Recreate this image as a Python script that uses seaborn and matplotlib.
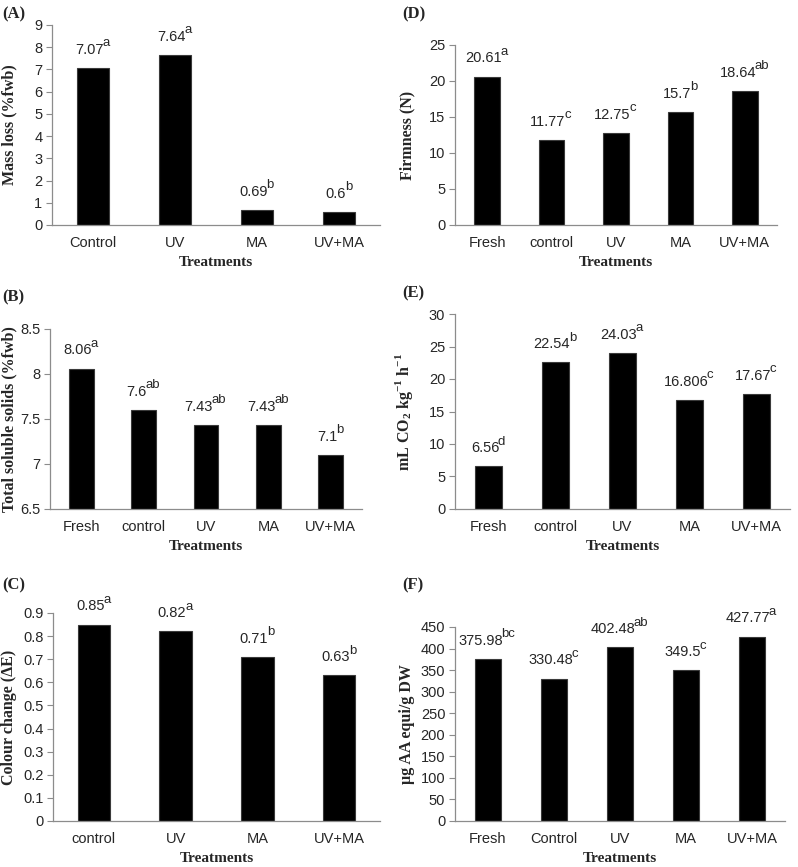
import matplotlib
matplotlib.use("Agg")
import matplotlib.pyplot as plt
import seaborn as sns
import numpy as np

# data
cats_a = ["Control", "UV", "MA", "UV+MA"]
mass_loss = [7.07, 7.64, 0.69, 0.6]
letters_a = ["a", "a", "b", "b"]

cats_b = ["Fresh", "control", "UV", "MA", "UV+MA"]
tss = [8.06, 7.6, 7.43, 7.43, 7.1]
letters_b = ["a", "ab", "ab", "ab", "b"]

cats_c = ["control", "UV", "MA", "UV+MA"]
colour_change = [0.85, 0.82, 0.71, 0.63]
letters_c = ["a", "a", "b", "b"]

cats_d = ["Fresh", "control", "UV", "MA", "UV+MA"]
firmness = [20.61, 11.77, 12.75, 15.7, 18.64]
letters_d = ["a", "c", "c", "b", "ab"]

cats_e = ["Fresh", "control", "UV", "MA", "UV+MA"]
respiration = [6.56, 22.54, 24.03, 16.806, 17.67]
letters_e = ["d", "b", "a", "c", "c"]

cats_f = ["Fresh", "Control", "UV", "MA", "UV+MA"]
antioxidant = [375.98, 330.48, 402.48, 349.5, 427.77]
letters_f = ["bc", "c", "ab", "c", "a"]

sns.set_style("white")
plt.rcParams["font.family"] = ["Liberation Sans", "DejaVu Sans"]
plt.rcParams["mathtext.fontset"] = "custom"
plt.rcParams["mathtext.rm"] = "Liberation Serif:bold"
plt.rcParams["mathtext.bf"] = "Liberation Serif:bold"

W, H = 798, 867
fig = plt.figure(figsize=(W / 100, H / 100), dpi=100)

serif = ["Liberation Serif", "DejaVu Serif"]
grey = "#8c8c8c"
fs_val = 10.5
fs_sup = 9.5


def panel(box, cats, vals, letters, ylim, step, ylabel, tag, tagxy, ypad):
    l, r, t, b = box
    ax = fig.add_axes([l / W, 1 - b / H, (r - l) / W, (b - t) / H])
    sns.barplot(x=cats, y=vals, color="black", width=0.4, saturation=1,
                edgecolor="#3a3a3a", linewidth=0.8, ax=ax)
    ax.set_ylim(*ylim)
    ax.set_xlim(-0.5, len(cats) - 0.5)
    ticks = np.arange(ylim[0], ylim[1] + step / 2, step)
    ax.set_yticks(ticks)
    ax.set_yticklabels([f"{round(v, 2):g}" for v in ticks])
    ax.set_xticks(np.arange(-0.5, len(cats)), minor=True)
    ax.tick_params(axis="x", which="major", length=0, pad=8, labelsize=10.5)
    ax.tick_params(axis="x", which="minor", length=4, color=grey, width=0.8)
    ax.tick_params(axis="y", length=4, color=grey, width=0.8, labelsize=10.5, pad=3, left=True)
    for s in ["top", "right"]:
        ax.spines[s].set_visible(False)
    for s in ["left", "bottom"]:
        ax.spines[s].set_color(grey)
        ax.spines[s].set_linewidth(0.9)
    # value labels with superscript significance letters
    for i, (v, let) in enumerate(zip(vals, letters)):
        shift = -len(let) * fs_sup * 0.27
        txt = ax.annotate(f"{v:g}", (i, v), xytext=(shift, 8), textcoords="offset points",
                          ha="center", va="bottom", fontsize=fs_val)
        ax.annotate(let, xy=(0.96, 0.55), xycoords=txt, ha="left", va="bottom",
                    fontsize=fs_sup)
    ax.set_ylabel(ylabel, fontfamily=serif, fontweight="bold", fontsize=11.5)
    ax.yaxis.set_label_coords(-ypad / (r - l), 0.5)
    ax.set_xlabel("Treatments", fontfamily=serif, fontweight="bold", fontsize=11)
    ax.xaxis.set_label_coords(0.5, -31 / (b - t))
    fig.text(tagxy[0] / W, 1 - tagxy[1] / H, tag, fontfamily=serif,
             fontweight="bold", fontsize=12, va="center", ha="left")
    return ax


panel((52, 380, 25, 225), cats_a, mass_loss, letters_a, (0, 9), 1,
      "Mass loss (%fwb)", "(A)", (2, 14), 35)
panel((50, 362, 329, 509), cats_b, tss, letters_b, (6.5, 8.5), 0.5,
      "Total soluble solids (%fwb)", "(B)", (2, 297), 33)
panel((53, 380, 613, 821), cats_c, colour_change, letters_c, (0, 0.9), 0.1,
      "Colour change (\u0394E)", "(C)", (2, 585), 36)
panel((455, 777, 45, 225), cats_d, firmness, letters_d, (0, 25), 5,
      "Firmness (N)", "(D)", (402, 14), 40)
panel((455, 790, 314, 509), cats_e, respiration, letters_e, (0, 30), 5,
      r"mL CO$_\mathbf{2}$ kg$^\mathbf{-1}$ h$^\mathbf{-1}$", "(E)", (402, 293), 40)
panel((455, 785, 627, 821), cats_f, antioxidant, letters_f, (0, 450), 50,
      "\u00b5g AA equi/g DW", "(F)", (402, 585), 40)

fig.savefig("out.png", dpi=100, facecolor="white")
